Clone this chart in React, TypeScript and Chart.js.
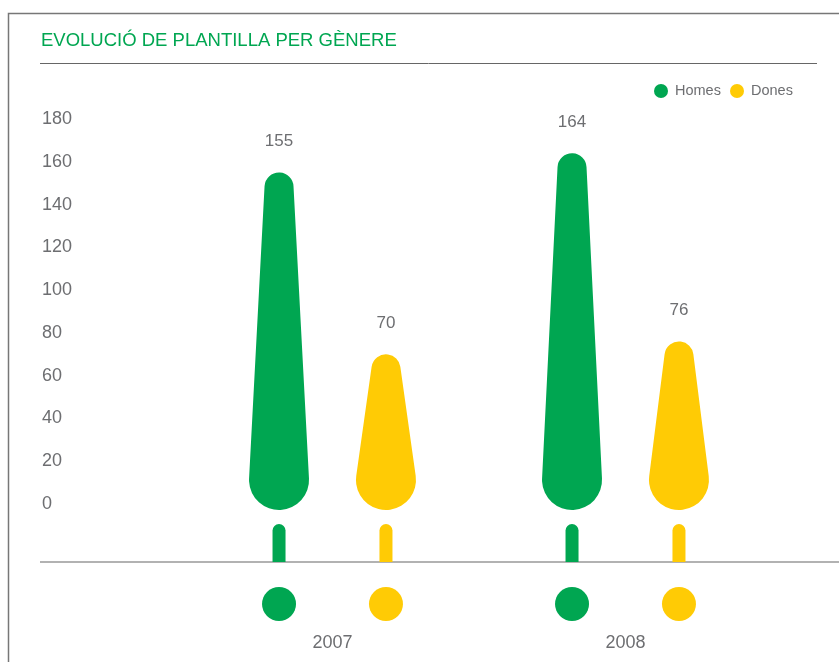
import React, { useEffect, useRef } from "react";
import { Chart, registerables } from "chart.js";

Chart.register(...registerables);

const title = "EVOLUCIÓ DE PLANTILLA PER GÈNERE";
const categories = ["2007", "2008"];
const seriesNames = ["Homes", "Dones"];
const homes = [155, 164];
const dones = [70, 76];
const yMin = 0;
const yMax = 180;
const yStep = 20;

const GREEN = "#00A651";
const YELLOW = "#FFCB05";
const GREY = "#6D6E71";
const FONT = "'Liberation Sans', Arial, Helvetica, sans-serif";

function drawTree(ctx: CanvasRenderingContext2D, x: number, yTop: number, c2: number, r1: number, r2: number) {
  const c1 = yTop + r1;
  const d = c2 - c1;
  ctx.beginPath();
  if (d <= Math.abs(r2 - r1) + 1) {
    ctx.arc(x, c2, r2, 0, Math.PI * 2);
  } else {
    const a = Math.asin((r1 - r2) / d);
    ctx.arc(x, c1, r1, Math.PI - a, 2 * Math.PI + a);
    ctx.arc(x, c2, r2, a, Math.PI - a);
    ctx.closePath();
  }
  ctx.fill();
}

function roundTopRect(ctx: CanvasRenderingContext2D, x: number, top: number, bottom: number, w: number) {
  const r = w / 2;
  ctx.beginPath();
  ctx.moveTo(x - r, bottom);
  ctx.lineTo(x - r, top + r);
  ctx.arc(x, top + r, r, Math.PI, 2 * Math.PI);
  ctx.lineTo(x + r, bottom);
  ctx.closePath();
  ctx.fill();
}

const decorPlugin = {
  id: "decor",
  beforeDraw(chart: any) {
    const ctx: CanvasRenderingContext2D = chart.ctx;
    ctx.save();
    ctx.fillStyle = "#ffffff";
    ctx.fillRect(0, 0, chart.width, chart.height);
    // frame
    ctx.strokeStyle = "#777777";
    ctx.lineWidth = 1.5;
    ctx.beginPath();
    ctx.moveTo(8.5, chart.height);
    ctx.lineTo(8.5, 13.5);
    ctx.lineTo(chart.width, 13.5);
    ctx.stroke();
    // title
    ctx.fillStyle = GREEN;
    ctx.font = `18.5px ${FONT}`;
    ctx.textAlign = "left";
    ctx.textBaseline = "alphabetic";
    ctx.fillText(title, 41, 45.5);
    // rule under title
    ctx.strokeStyle = "#666666";
    ctx.lineWidth = 1;
    ctx.beginPath();
    ctx.moveTo(40, 63.5);
    ctx.lineTo(817, 63.5);
    ctx.stroke();
    // legend
    const colors = [GREEN, YELLOW];
    const lx = [661, 737];
    ctx.font = `14.5px ${FONT}`;
    ctx.textBaseline = "middle";
    seriesNames.forEach((name, i) => {
      ctx.fillStyle = colors[i];
      ctx.beginPath();
      ctx.arc(lx[i], 91, 7, 0, Math.PI * 2);
      ctx.fill();
      ctx.fillStyle = GREY;
      ctx.fillText(name, lx[i] + 14, 91);
    });
    // baseline axis
    const base = chart.scales.y.getPixelForValue(0);
    ctx.strokeStyle = "#999999";
    ctx.lineWidth = 1.5;
    ctx.beginPath();
    ctx.moveTo(40, base + 58);
    ctx.lineTo(chart.width, base + 58);
    ctx.stroke();
    ctx.restore();
  },
  afterDatasetsDraw(chart: any) {
    const ctx: CanvasRenderingContext2D = chart.ctx;
    const base = chart.scales.y.getPixelForValue(0);
    ctx.save();
    chart.data.datasets.forEach((ds: any, i: number) => {
      const meta = chart.getDatasetMeta(i);
      meta.data.forEach((el: any, j: number) => {
        const x = el.x;
        const top = el.y;
        ctx.fillStyle = ds.treeColor;
        drawTree(ctx, x, top, base - 24, 14.5, 30);
        roundTopRect(ctx, x, base + 20, base + 58, 13);
        ctx.beginPath();
        ctx.arc(x, base + 100, 17, 0, Math.PI * 2);
        ctx.fill();
        ctx.fillStyle = GREY;
        ctx.font = `17px ${FONT}`;
        ctx.textAlign = "center";
        ctx.textBaseline = "middle";
        ctx.fillText(String(ds.data[j]), x, top - 31);
      });
    });
    ctx.restore();
  },
};

export default function App() {
  const ref = useRef<HTMLCanvasElement | null>(null);
  useEffect(() => {
    if (!ref.current) return;
    const chart = new Chart(ref.current, {
      type: "bar",
      data: {
        labels: categories,
        datasets: [
          { label: seriesNames[0], data: homes, backgroundColor: "rgba(0,0,0,0)", borderWidth: 0, treeColor: GREEN } as any,
          { label: seriesNames[1], data: dones, backgroundColor: "rgba(0,0,0,0)", borderWidth: 0, treeColor: YELLOW } as any,
        ],
      },
      options: {
        responsive: false,
        animation: false,
        layout: { padding: { left: 42, right: 67, top: 119, bottom: 0 } },
        datasets: { bar: { categoryPercentage: 0.73, barPercentage: 0.5 } },
        plugins: { legend: { display: false }, tooltip: { enabled: false }, title: { display: false } },
        scales: {
          x: {
            type: "category",
            grid: { display: false, drawTicks: false },
            border: { display: false },
            ticks: { font: { family: FONT, size: 18 }, color: GREY, padding: 128 },
            afterFit: (s: any) => { s.height = 158; },
          },
          y: {
            min: yMin,
            max: yMax,
            grid: { display: false, drawTicks: false },
            border: { display: false },
            ticks: { stepSize: yStep, font: { family: FONT, size: 18 }, color: GREY, crossAlign: "far", padding: 0 },
            afterFit: (s: any) => { s.width = 144; },
          },
        },
      },
      plugins: [decorPlugin],
    });
    return () => chart.destroy();
  }, []);
  return (
    <div style={{ position: "fixed", left: 0, top: 0, width: 839, height: 662, background: "#fff" }}>
      <canvas ref={ref} width={839} height={662} style={{ display: "block", width: 839, height: 662 }} />
    </div>
  );
}
